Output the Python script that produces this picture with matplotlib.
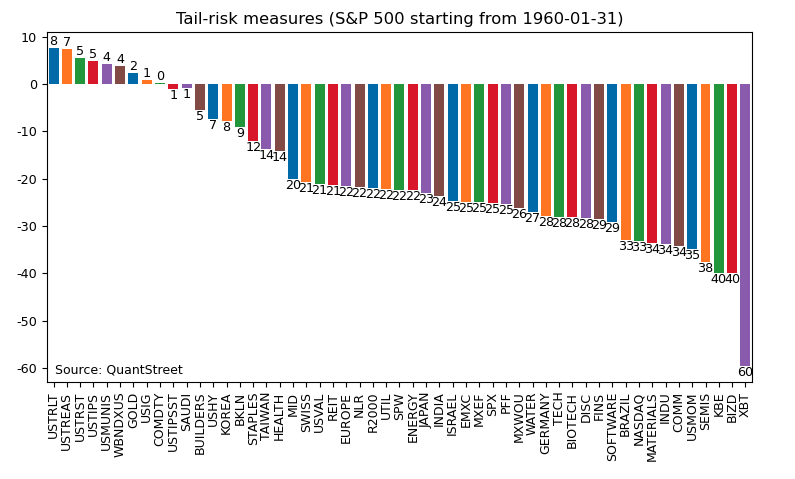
import matplotlib
matplotlib.use("Agg")
import matplotlib.pyplot as plt

names = ["USTRLT", "USTREAS", "USTRST", "USTIPS", "USMUNIS", "WBNDXUS", "GOLD", "USIG",
         "COMDTY", "USTIPSST", "SAUDI", "BUILDERS", "USHY", "KOREA", "BKLN", "STAPLES",
         "TAIWAN", "HEALTH", "MID", "SWISS", "USVAL", "REIT", "EUROPE", "NLR", "R2000",
         "UTIL", "SPW", "ENERGY", "JAPAN", "INDIA", "ISRAEL", "EMXC", "MXEF", "SPX", "PFF",
         "MXWOU", "WATER", "GERMANY", "TECH", "BIOTECH", "DISC", "FINS", "SOFTWARE",
         "BRAZIL", "NASDAQ", "MATERIALS", "INDU", "COMM", "USMOM", "SEMIS", "KBE", "BIZD", "XBT"]
values = [7.6, 7.3, 5.4, 4.9, 4.2, 3.8, 2.3, 0.8,
          0.2, -1.0, -0.9, -5.4, -7.3, -7.8, -9.1, -12.1,
          -13.7, -14.1, -20.1, -20.7, -21.1, -21.3, -21.6, -21.8, -22.0,
          -22.2, -22.3, -22.4, -23.0, -23.7, -24.8, -24.9, -25.0, -25.1, -25.3,
          -26.2, -27.1, -27.8, -28.0, -28.1, -28.3, -28.6, -29.2,
          -33.0, -33.2, -33.6, -33.9, -34.2, -34.8, -37.7, -39.9, -40.0, -59.6]
palette = ["#0069a8", "#ff7521", "#22963a", "#d8172b", "#8a5aad", "#824a44"]

plt.rcParams["axes.unicode_minus"] = False
plt.rcParams["xtick.labelsize"] = 9
plt.rcParams["ytick.labelsize"] = 9.2

fig = plt.figure(figsize=(7.95, 4.79), dpi=100)
ax = fig.add_axes([0.059, 0.2025, 0.887, 0.7305])

cols = [palette[i % len(palette)] for i in range(len(values))]
bars = ax.bar(range(len(values)), values, width=0.75, color=cols)
ax.bar_label(bars, labels=[f"{abs(v):.0f}" for v in values], fontsize=9.2)

ax.set_xlim(-0.5, len(values) - 0.5)
ax.set_xticks(range(len(values)))
ax.set_xticklabels(names, rotation=90)
ax.set_title("Tail-risk measures (S&P 500 starting from 1960-01-31)", fontsize=11.8)
ax.text(0.011, 0.015, "Source: QuantStreet", transform=ax.transAxes, ha="left", va="bottom",
        fontsize=9)

fig.savefig("out.png")
